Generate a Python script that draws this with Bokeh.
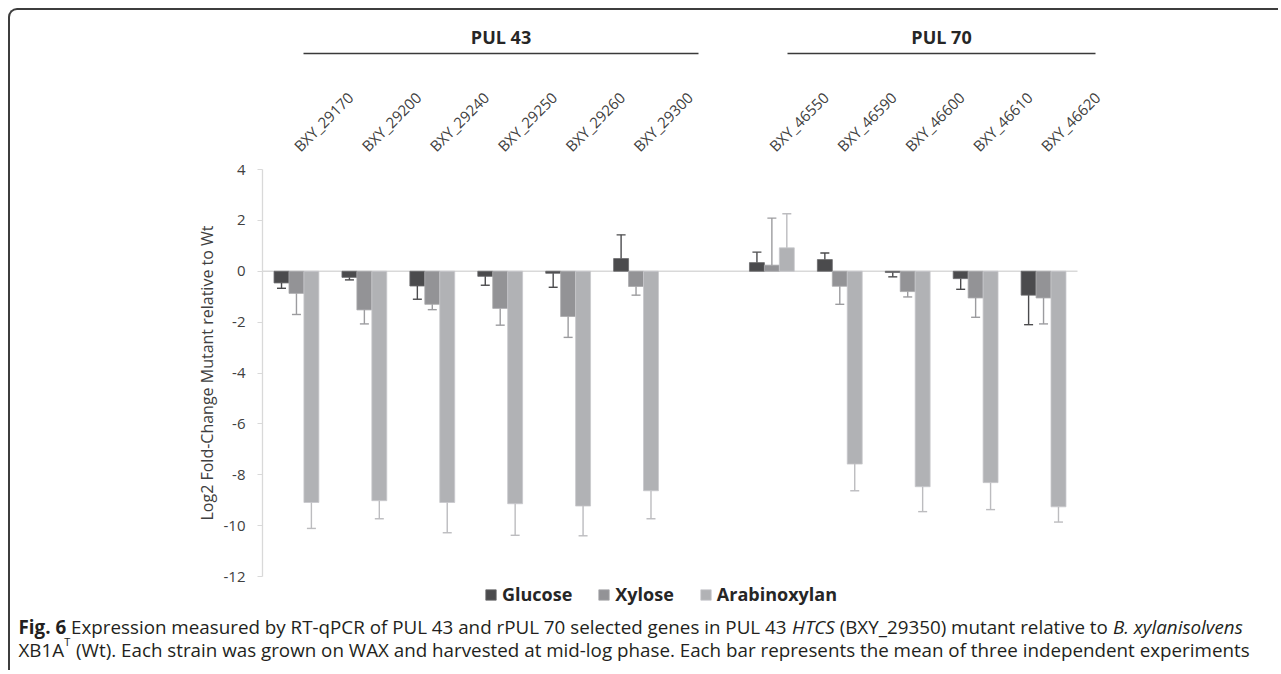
import math
import subprocess
from bokeh.plotting import figure
from bokeh.models import (Range1d, ColumnDataSource, Legend, LegendItem, Label, LinearAxis, FixedTicker)
from bokeh.transform import dodge
from bokeh.embed import file_html
from bokeh.resources import INLINE

# ---------------- data ----------------
genes_pul43 = ["BXY_29170", "BXY_29200", "BXY_29240", "BXY_29250", "BXY_29260", "BXY_29300"]
genes_pul70 = ["BXY_46550", "BXY_46590", "BXY_46600", "BXY_46610", "BXY_46620"]
pul_titles = ["PUL 43", "PUL 70"]
series_names = ["Glucose", "Xylose", "Arabinoxylan"]

glucose = [-0.46, -0.24, -0.58, -0.20, -0.08, 0.50, 0.34, 0.46, -0.05, -0.29, -0.94]
glucose_err = [0.21, 0.10, 0.52, 0.35, 0.55, 0.93, 0.41, 0.26, 0.17, 0.42, 1.16]
xylose = [-0.87, -1.52, -1.30, -1.46, -1.78, -0.60, 0.24, -0.59, -0.80, -1.05, -1.05]
xylose_err = [0.83, 0.55, 0.21, 0.66, 0.82, 0.34, 1.85, 0.71, 0.21, 0.76, 1.02]
arabinoxylan = [-9.09, -9.02, -9.09, -9.14, -9.23, -8.63, 0.92, -7.58, -8.47, -8.31, -9.26]
arabinoxylan_err = [1.02, 0.71, 1.19, 1.24, 1.17, 1.10, 1.34, 1.05, 0.98, 1.06, 0.60]

y_ticks = [-12, -10, -8, -6, -4, -2, 0, 2, 4]
y_label = "Log2 Fold-Change Mutant relative to Wt"
caption_line1 = [("Fig. 6", "bold"),
                 ("Expression measured by RT-qPCR of PUL 43 and rPUL 70 selected genes in PUL 43", "normal"),
                 ("HTCS", "italic"),
                 ("(BXY_29350) mutant relative to", "normal"),
                 ("B. xylanisolvens", "italic")]
caption_line2 = [("XB1A", "normal"), ("T", "sup"),
                 ("(Wt). Each strain was grown on WAX and harvested at mid-log phase. "
                  "Each bar represents the mean of three independent experiments", "normal")]

# ---------------- layout constants (page pixels) ----------------
FONT = "Open Sans"
CANVAS_X0, CANVAS_Y0 = 10, 10
CANVAS_W, CANVAS_H = 1270, 662
AXIS_X, AXIS_RIGHT = 262, 1077
Y_TOP_PX, Y_BOT_PX = 169, 576
YMIN, YMAX = -12, 4
N_SLOTS = len(genes_pul43) + 1 + len(genes_pul70)
CAT_W = (AXIS_RIGHT - AXIS_X) / N_SLOTS
PX = (Y_BOT_PX - Y_TOP_PX) / (YMAX - YMIN)
X_START = -0.5 - (AXIS_X - CANVAS_X0) / CAT_W
Y_END = YMAX + (Y_TOP_PX - CANVAS_Y0) / PX


def dx(px):
    return X_START + (px - CANVAS_X0) / CAT_W


def dy(py):
    return Y_END - (py - CANVAS_Y0) / PX


BAR_W = 0.22
offsets = [-BAR_W, 0.0, BAR_W]
fill_colors = ["#4b4b4d", "#939396", "#b1b2b5"]
err_colors = ["#4b4b4d", "#9c9c9f", "#bcbcbf"]
outline_colors = ["#6a6a6c", "#a9a9ac", "#c8c8cb"]
group_spans_px = [(303, 698), (787, 1095)]
HEAD_LINE_PY, HEAD_TEXT_PY = 53, 36
YTITLE_PX = 206
CAP_X = 18
CAP_BASE = [626, 649]
CAP_SIZE = 18.8
BORDER = "2px solid #3d3d3d"

genes = genes_pul43 + genes_pul70
positions = list(range(len(genes_pul43))) + [len(genes_pul43) + 1 + i for i in range(len(genes_pul70))]


def ends(vals, errs):
    return [v + (e if v >= 0 else -e) for v, e in zip(vals, errs)]


src = ColumnDataSource(dict(
    pos=positions, gene=genes,
    glucose=glucose, glucose_end=ends(glucose, glucose_err),
    xylose=xylose, xylose_end=ends(xylose, xylose_err),
    arabinoxylan=arabinoxylan, arabinoxylan_end=ends(arabinoxylan, arabinoxylan_err),
))

p = figure(x_range=Range1d(X_START, X_START + CANVAS_W / CAT_W),
           y_range=Range1d(Y_END - CANVAS_H / PX, Y_END),
           x_axis_type=None, y_axis_type=None,
           width=CANVAS_W, height=CANVAS_H,
           min_border=0, min_border_left=0, min_border_right=0, min_border_top=0, min_border_bottom=0,
           output_backend="svg", toolbar_location=None, tools="",
           styles={"border-top": BORDER, "border-left": BORDER, "border-top-left-radius": "9px",
                   "margin-left": "8px", "margin-top": "8px"})
p.outline_line_color = None
p.background_fill_alpha = 0
p.border_fill_alpha = 0

# zero (category) axis line
p.segment(x0=[-0.5], y0=[0], x1=[N_SLOTS - 0.5], y1=[0], line_color="#d9d9d9", line_width=1.5)

keys = ["glucose", "xylose", "arabinoxylan"]
renderers = []
for key, off, fc, ec, oc in zip(keys, offsets, fill_colors, err_colors, outline_colors):
    xs = dodge("pos", off)
    r = p.vbar(x=xs, top=key, bottom=0, width=BAR_W, source=src,
               fill_color=fc, line_color=oc, line_width=0.8)
    renderers.append(r)
    p.segment(x0=xs, y0=key, x1=xs, y1=key + "_end", source=src, line_color=ec, line_width=1.4)
    p.scatter(x=xs, y=key + "_end", source=src, marker="dash", size=9, line_color=ec, line_width=1.4)

# y axis
yax = LinearAxis(fixed_location=-0.5, bounds=(YMIN, YMAX), ticker=FixedTicker(ticks=y_ticks),
                 major_label_overrides={t: str(t) for t in y_ticks})
yax.axis_line_color = "#d9d9d9"
yax.axis_line_width = 1.3
yax.major_tick_line_color = "#d9d9d9"
yax.major_tick_out = 5
yax.major_tick_in = 0
yax.minor_tick_line_color = None
yax.major_label_text_font = FONT
yax.major_label_text_font_size = "15px"
yax.major_label_text_color = "#404040"
yax.major_label_standoff = 12
p.add_layout(yax, "left")

p.text(x=[dx(YTITLE_PX)], y=[(YMIN + YMAX) / 2], text=[y_label], angle=math.pi / 2,
       text_align="center", text_baseline="middle", text_font={"value": FONT},
       text_font_size="16px", text_color="#404040")

# category axis (top)
xax = LinearAxis(fixed_location=YMAX, ticker=FixedTicker(ticks=positions),
                 major_label_overrides={pos: g for pos, g in zip(positions, genes)})
xax.axis_line_color = None
xax.major_tick_line_color = None
xax.minor_tick_line_color = None
xax.major_label_orientation = math.pi / 4
xax.major_label_text_font = FONT
xax.major_label_text_font_size = "15px"
xax.major_label_text_color = "#404040"
xax.major_label_standoff = 15
p.add_layout(xax, "above")

# group headings
for title, (x0, x1) in zip(pul_titles, group_spans_px):
    p.segment(x0=[dx(x0)], y0=[dy(HEAD_LINE_PY)], x1=[dx(x1)], y1=[dy(HEAD_LINE_PY)],
              line_color="#3a3a3a", line_width=1.6)
    p.add_layout(Label(x=dx((x0 + x1) / 2), y=dy(HEAD_TEXT_PY), text=title,
                       text_align="center", text_baseline="middle",
                       text_font=FONT, text_font_size="18px", text_font_style="bold",
                       text_color="#262626"))

legend = Legend(items=[LegendItem(label=n, renderers=[r]) for n, r in zip(series_names, renderers)],
                orientation="horizontal", location=(484 - CANVAS_X0, CANVAS_Y0 + CANVAS_H - 582 - 24),
                label_text_font=FONT, label_text_font_size="18px", label_text_font_style="bold",
                label_text_color="#262626", glyph_width=13, glyph_height=13, label_height=24,
                label_standoff=5, spacing=25, padding=0, margin=0,
                border_line_color=None, background_fill_alpha=0)
p.add_layout(legend)


# ---------------- caption (measured with the installed font) ----------------
_font_cache = {}


def text_width(text, style, size):
    key = (style, size)
    try:
        if key not in _font_cache:
            from PIL import ImageFont
            pat = {"normal": "Open Sans", "bold": "Open Sans:bold", "italic": "Open Sans:italic"}[style]
            path = subprocess.run(["fc-match", "-f", "%{file}", pat], capture_output=True,
                                  text=True, timeout=10).stdout.strip()
            f = ImageFont.truetype(path, int(round(size * 10)))
            try:
                f.get_variation_axes()
                if style == "bold":
                    f.set_variation_by_name("Bold")
            except Exception:
                pass
            _font_cache[key] = f
        return _font_cache[key].getlength(text) / 10.0
    except Exception:
        return len(text) * 0.53 * size * (1.06 if style == "bold" else 1.0)


SPACE = text_width(" ", "normal", CAP_SIZE)
for segs, base in zip([caption_line1, caption_line2], CAP_BASE):
    x = CAP_X
    for i, (txt, style) in enumerate(segs):
        if style == "sup":
            size, yb, fstyle = 11, base - 8, "normal"
        else:
            size, yb, fstyle = CAP_SIZE, base, style
        p.add_layout(Label(x=dx(x), y=dy(yb), text=txt, text_align="left", text_baseline="alphabetic",
                           text_font=FONT, text_font_size=f"{size}px", text_font_style=fstyle,
                           text_color="#231f20"))
        x += text_width(txt, fstyle, size) + (1 if style == "sup" else 0)
        if i < len(segs) - 1 and not (segs[i + 1][1] == "sup"):
            x += SPACE

open("out.html", "w").write(file_html(p, INLINE))
